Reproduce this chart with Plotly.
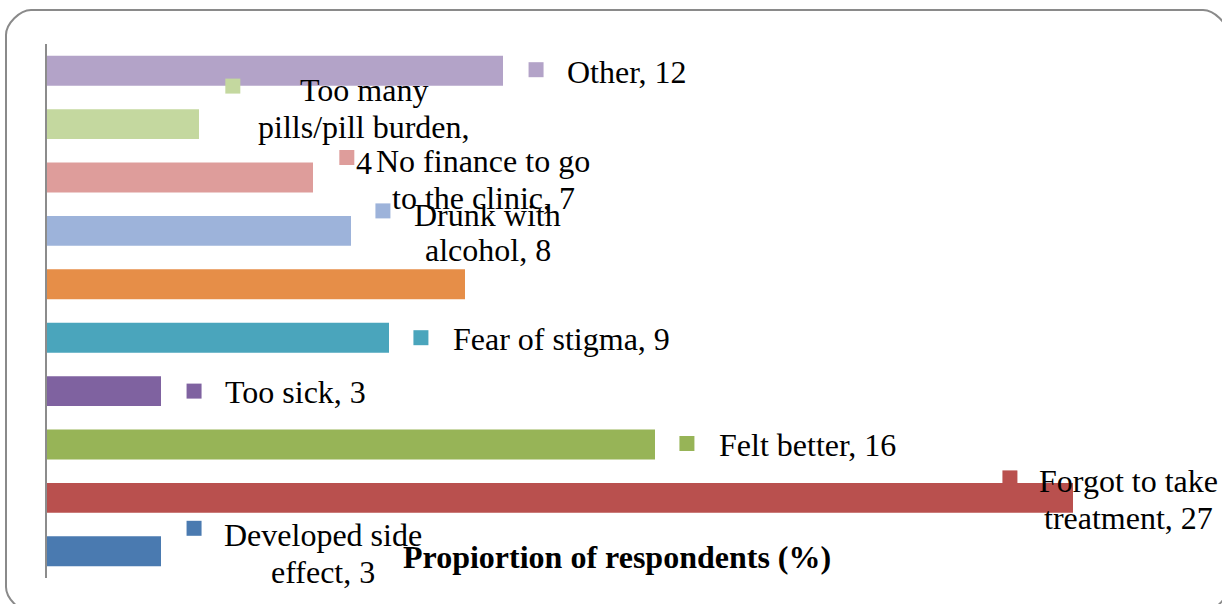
import plotly.graph_objects as go

# categories from bottom to top
reasons = ["Developed side effect", "Forgot to take treatment", "Felt better", "Too sick",
           "Fear of stigma", "Unlabelled", "Drunk with alcohol", "No finance to go to the clinic",
           "Too many pills/pill burden", "Other"]
values = [3, 27, 16, 3, 9, 11, 8, 7, 4, 12]
label_lines = [["Developed side", "effect, 3"], ["Forgot to take", "treatment, 27"],
               ["Felt better, 16"], ["Too sick, 3"], ["Fear of stigma, 9"], [],
               ["Drunk with", "alcohol, 8"], ["No finance to go", "to the clinic, 7"],
               ["Too many", "pills/pill burden,", "4"], ["Other, 12"]]
colors = ["#4A7AB0", "#B9504E", "#97B457", "#7F62A0", "#4AA5BC",
          "#E68E48", "#9DB3DA", "#DE9D9B", "#C4D89F", "#B3A3C8"]

# label placement: x in data units, vertical offsets in pixels (down = positive)
sq_x = [3.87, 25.34, 16.84, 3.87, 9.84, None, 8.84, 7.89, 4.89, 12.87]
sq_dpx = [-23, -20, -1, 0, 0, None, -20, -20, -38, -1]
txt_x = [7.26, 28.47, 17.64, 4.64, 10.62, None, 11.6, 11.48, 8.33, 13.64]
txt_dpx = [[-16, 21], [-17, 20], [0], [1], [1], [], [-16, 19], [-17, 20], [-34, 3, 39], [1]]
txt_anchor = ["center", "center", "left", "left", "left", None, "center", "center", "center", "left"]

FONT = "Liberation Serif, Times New Roman, serif"
FS = 32
W, H = 1222, 604
L, R, T, B = 47, 35, 44, 26
pw, ph = W - L - R, H - T - B
step = ph / 10.0

pos = list(range(len(reasons)))

fig = go.Figure()
fig.add_trace(go.Bar(
    x=values, y=pos, orientation="h",
    marker=dict(color=colors, line=dict(width=0)),
    width=0.56, showlegend=False, hoverinfo="x+text", hovertext=reasons,
))

keys = [i for i in pos if sq_x[i] is not None]
fig.add_trace(go.Scatter(
    x=[sq_x[i] for i in keys], y=[i - sq_dpx[i] / step for i in keys],
    mode="markers", marker=dict(symbol="square", size=15, color=[colors[i] for i in keys]),
    showlegend=False, hoverinfo="skip", cliponaxis=False,
))

for i in keys:
    for line, dpx in zip(label_lines[i], txt_dpx[i]):
        fig.add_annotation(
            x=txt_x[i], y=i - dpx / step, xref="x", yref="y", text=line,
            showarrow=False, xanchor=txt_anchor[i], yanchor="middle",
            font=dict(family=FONT, size=FS, color="black"),
        )

fig.add_annotation(
    x=0.5, y=0.04, xref="paper", yref="paper", text="<b>Propiortion of respondents (%)</b>",
    showarrow=False, xanchor="center", yanchor="middle",
    font=dict(family=FONT, size=FS, color="black"),
)


def px2paper(px, py):
    return (px - L) / pw, (H - B - py) / ph


# rounded frame around the slide area (runs past the right and bottom edges)
x0, y0, x1, y1, r = 6, 10, 1228, 612, 25
k = 0.45 * r
segs = [
    ("M", [(x0 + r, y0)]), ("L", [(x1 - r, y0)]),
    ("C", [(x1 - r + k, y0), (x1, y0 + r - k), (x1, y0 + r)]),
    ("L", [(x1, y1 - r)]),
    ("C", [(x1, y1 - r + k), (x1 - r + k, y1), (x1 - r, y1)]),
    ("L", [(x0 + r, y1)]),
    ("C", [(x0 + r - k, y1), (x0, y1 - r + k), (x0, y1 - r)]),
    ("L", [(x0, y0 + r)]),
    ("C", [(x0, y0 + r - k), (x0 + r - k, y0), (x0 + r, y0)]),
]
path = ""
for cmd, ps in segs:
    path += cmd + " ".join("%.5f,%.5f" % px2paper(a, b) for a, b in ps) + " "
path += "Z"
fig.add_shape(type="path", path=path, xref="paper", yref="paper",
              line=dict(color="#8a8a8a", width=2), fillcolor="rgba(0,0,0,0)", layer="below")

fig.update_xaxes(range=[0, pw / 38], showgrid=False, zeroline=False, showticklabels=False,
                 ticks="", showline=False)
fig.update_yaxes(range=[-0.5, 9.5], showgrid=False, zeroline=False, showticklabels=False,
                 ticks="", showline=True, linecolor="#8c8c8c", linewidth=2)
fig.update_layout(
    width=W, height=H, margin=dict(l=L, r=R, t=T, b=B),
    plot_bgcolor="white", paper_bgcolor="white",
    font=dict(family=FONT, size=FS, color="black"),
    bargap=0.44,
)
fig.write_html("out.html", config={"displayModeBar": False},
               post_script="document.body.style.margin='0';")
